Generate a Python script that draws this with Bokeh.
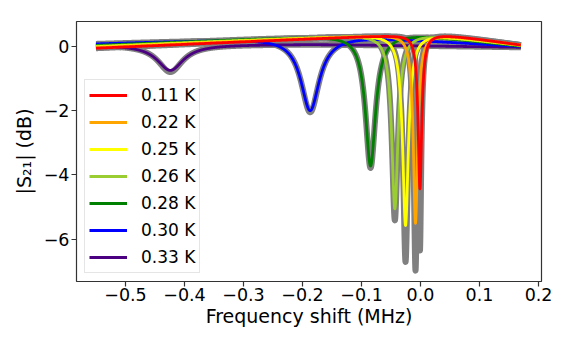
import numpy as np
from bokeh.plotting import figure
from bokeh.models import Range1d, FixedTicker, Legend, LegendItem
from bokeh.embed import file_html
from bokeh.resources import INLINE

# ---- values ----
labels = ["0.11 K", "0.22 K", "0.25 K", "0.26 K", "0.28 K", "0.30 K", "0.33 K"]
colors = ["red", "orange", "yellow", "yellowgreen", "green", "blue", "indigo"]
f_center = [-0.001, -0.0085, -0.0254, -0.0435, -0.0847, -0.187, -0.424]     # MHz
fit_min_db = [-4.43, -5.50, -5.57, -5.05, -3.72, -2.00, -0.75]               # dB
data_min_db = [-6.35, -6.97, -6.70, -5.41, -3.78, -2.05, -0.80]              # dB
half_depth_width = [0.0075, 0.009, 0.012, 0.013, 0.021, 0.038, 0.054]       # MHz
bg_left = [-0.06, -0.04, -0.02, 0.00, 0.03, 0.08, 0.04]     # dB at f_start
bg_peak = [0.36, 0.37, 0.37, 0.37, 0.38, 0.30, 0.06]        # dB
bg_peak_f = [0.015, 0.005, -0.010, -0.025, -0.045, -0.13, -0.20]  # MHz
bg_right = [0.04, 0.04, 0.04, 0.03, 0.01, 0.00, -0.03]      # dB at f_stop
f_start, f_stop = -0.55, 0.17

x_ticks = [-0.5, -0.4, -0.3, -0.2, -0.1, 0.0, 0.1, 0.2]
x_tick_labels = ["\u22120.5", "\u22120.4", "\u22120.3", "\u22120.2", "\u22120.1", "0.0", "0.1", "0.2"]
y_ticks = [0, -2, -4, -6]
y_tick_labels = ["0", "\u22122", "\u22124", "\u22126"]


def background(f, i):
    s = 0.04
    g = lambda d: np.sqrt(d * d + s * s) - s
    fp, vp = bg_peak_f[i], bg_peak[i]
    d = f - fp
    left = vp - (vp - bg_left[i]) * g(d) / g(fp - f_start)
    right = vp - (vp - bg_right[i]) * g(d) / g(f_stop - fp)
    return np.where(d < 0, left, right)


def resonance_db(f, i, min_db):
    f0 = f_center[i]
    bg0 = float(background(np.array([f0]), i)[0])
    depth = min_db - bg0
    level = (fit_min_db[i] - bg0) / 2.0
    a2 = 10 ** (depth / 10.0)
    s2 = 10 ** (level / 10.0)
    u_ref = np.sqrt((s2 - a2) / (1 - s2))
    fw = half_depth_width[i] / u_ref
    u = 2 * (f - f0) / fw
    mag2 = (a2 + u * u) / (1 + u * u)
    return 10 * np.log10(mag2) + background(f, i)


p = figure(width=568, height=340, output_backend="svg", toolbar_location=None,
           x_range=Range1d(-0.583, 0.205), y_range=Range1d(-7.31, 0.77),
           min_border_left=76, min_border_right=27, min_border_top=21, min_border_bottom=59)
p.grid.visible = False
p.outline_line_color = "#333333"
p.outline_line_width = 1.2
p.background_fill_color = "white"
p.border_fill_color = "white"

base = np.linspace(f_start, f_stop, 4001)
grids = [np.union1d(base, [f_center[i]]) for i in range(len(labels))]

order = list(range(len(labels)))[::-1]   # indigo first, red on top
for i in order:
    f = grids[i]
    p.line(f, resonance_db(f, i, data_min_db[i]), line_color="#808080",
           line_width=6, line_join="round")

renderers = {}
for i in order:
    f = grids[i]
    renderers[i] = p.line(f, resonance_db(f, i, fit_min_db[i]), line_color=colors[i],
                          line_width=2.8, line_join="round")

legend = Legend(items=[LegendItem(label=labels[i], renderers=[renderers[i]]) for i in range(len(labels))],
                location="bottom_left")
legend.label_text_font = "DejaVu Sans"
legend.label_text_font_size = "17px"
legend.label_text_color = "black"
legend.glyph_width = 38
legend.glyph_height = 22
legend.label_height = 22
legend.label_standoff = 14
legend.padding = 4
legend.spacing = 5
legend.margin = 8
legend.border_line_color = "#cccccc"
legend.border_line_width = 1
legend.background_fill_alpha = 0.8
p.add_layout(legend)

for ax in (p.xaxis[0], p.yaxis[0]):
    ax.axis_line_color = None
    ax.major_tick_line_color = "#333333"
    ax.major_tick_line_width = 1.2
    ax.major_tick_out = 5
    ax.major_tick_in = 0
    ax.minor_tick_line_color = None
    ax.major_label_text_font = "DejaVu Sans"
    ax.major_label_text_font_size = "17.5px"
    ax.major_label_text_color = "black"
    ax.axis_label_text_font = "DejaVu Sans"
    ax.axis_label_text_font_size = "19px"
    ax.axis_label_text_font_style = "normal"
    ax.axis_label_text_color = "black"

p.xaxis[0].ticker = FixedTicker(ticks=x_ticks)
p.xaxis[0].major_label_overrides = {t: l for t, l in zip(x_ticks, x_tick_labels)}
p.yaxis[0].ticker = FixedTicker(ticks=y_ticks)
p.yaxis[0].major_label_overrides = {t: l for t, l in zip(y_ticks, y_tick_labels)}
p.xaxis[0].axis_label = "Frequency shift (MHz)"
p.yaxis[0].axis_label = "|S\u2082\u2081| (dB)"
p.xaxis[0].major_label_standoff = 1
p.xaxis[0].axis_label_standoff = 1
p.yaxis[0].major_label_standoff = 2
p.yaxis[0].axis_label_standoff = 6

open("out.html", "w").write(file_html(p, INLINE))
